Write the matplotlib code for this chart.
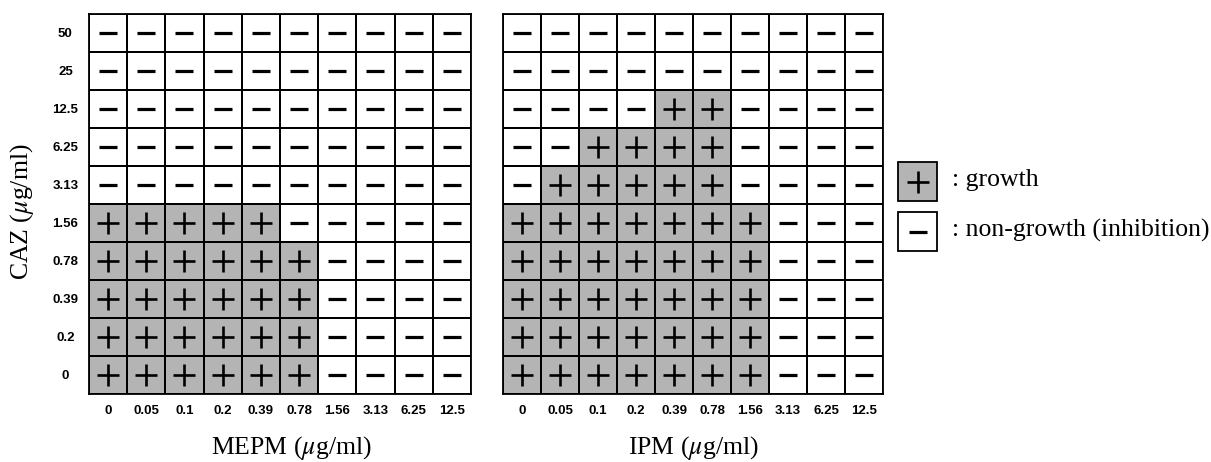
import numpy as np
import matplotlib
matplotlib.use('Agg')
import matplotlib.pyplot as plt
from matplotlib.colors import ListedColormap
from matplotlib.patches import Rectangle

plt.rcParams['mathtext.fontset'] = 'stix'

# 浓度 (μg/ml)
caz_conc = ['0', '0.2', '0.39', '0.78', '1.56', '3.13', '6.25', '12.5', '25', '50']
mepm_conc = ['0', '0.05', '0.1', '0.2', '0.39', '0.78', '1.56', '3.13', '6.25', '12.5']
ipm_conc = ['0', '0.05', '0.1', '0.2', '0.39', '0.78', '1.56', '3.13', '6.25', '12.5']

# 每行对应一个 CAZ 浓度（从 0 到 50），'+' = growth, '-' = non-growth
mepm_growth = [
    '++++++----',
    '++++++----',
    '++++++----',
    '++++++----',
    '+++++-----',
    '----------',
    '----------',
    '----------',
    '----------',
    '----------',
]
ipm_growth = [
    '+++++++---',
    '+++++++---',
    '+++++++---',
    '+++++++---',
    '+++++++---',
    '-+++++----',
    '--++++----',
    '----++----',
    '----------',
    '----------',
]

GREY = '#b4b4b4'
TICK_FONT = dict(family='Liberation Sans', weight='bold', size=9.5)
LABEL_FONT = dict(family='Liberation Serif', size=18.5)
PLUS = dict(marker='+', color='black', markersize=16.5, markeredgewidth=1.9, linestyle='none')
MINUS = dict(marker='_', color='black', markersize=13, markeredgewidth=2.3, linestyle='none')


def draw_panel(ax, growth, xlabels, xtitle, show_y, xlab_pos=0.5):
    mat = np.array([[1 if c == '+' else 0 for c in row] for row in growth])
    ny, nx = mat.shape
    ax.pcolormesh(np.arange(nx + 1), np.arange(ny + 1), mat,
                  cmap=ListedColormap(['white', GREY]), vmin=0, vmax=1,
                  edgecolors='black', linewidth=1.3)
    yy, xx = np.nonzero(mat == 1)
    ax.plot(xx + 0.5, yy + 0.5, **PLUS)
    yy, xx = np.nonzero(mat == 0)
    ax.plot(xx + 0.5, yy + 0.5, **MINUS)

    ax.set_xlim(0, nx)
    ax.set_ylim(0, ny)
    ax.set_xticks(np.arange(nx) + 0.5)
    ax.set_xticklabels(xlabels, fontdict=TICK_FONT)
    ax.tick_params(axis='x', length=0, pad=8)
    ax.set_yticks(np.arange(ny) + 0.5)
    if show_y:
        ax.set_yticklabels(caz_conc, fontdict=TICK_FONT, ha='center')
        ax.tick_params(axis='y', length=0, pad=17)
        ax.set_ylabel(r'CAZ ($\mu$g/ml)', fontdict=LABEL_FONT)
        ax.yaxis.set_label_coords(-0.14, 0.48)
    else:
        ax.set_yticklabels([])
        ax.tick_params(axis='y', length=0)
    ax.set_xlabel(xtitle + r' ($\mu$g/ml)', fontdict=LABEL_FONT)
    ax.xaxis.set_label_coords(xlab_pos, -0.105)
    for s in ax.spines.values():
        s.set_linewidth(1.3)


fig = plt.figure(figsize=(12.11, 4.62), dpi=100)
ax1 = fig.add_axes([0.0735, 0.1472, 0.3154, 0.8225])
ax2 = fig.add_axes([0.4154, 0.1472, 0.3138, 0.8225])
draw_panel(ax1, mepm_growth, mepm_conc, 'MEPM', True, xlab_pos=0.53)
draw_panel(ax2, ipm_growth, ipm_conc, 'IPM', False)

# 图例
lax = fig.add_axes([0, 0, 1, 1], facecolor='none')
lax.set_xlim(0, 1211)
lax.set_ylim(462, 0)
lax.axis('off')
for y0, grow, text in [(162, True, ': growth'), (212, False, ': non-growth (inhibition)')]:
    lax.add_patch(Rectangle((898, y0), 39, 39, facecolor=GREY if grow else 'white',
                            edgecolor='black', linewidth=1.3))
    lax.plot(917.5, y0 + 19.5, **(PLUS if grow else MINUS))
    lax.text(952, y0 + 18, text, ha='left', va='center', **LABEL_FONT)

plt.savefig('out.png', dpi=100)
